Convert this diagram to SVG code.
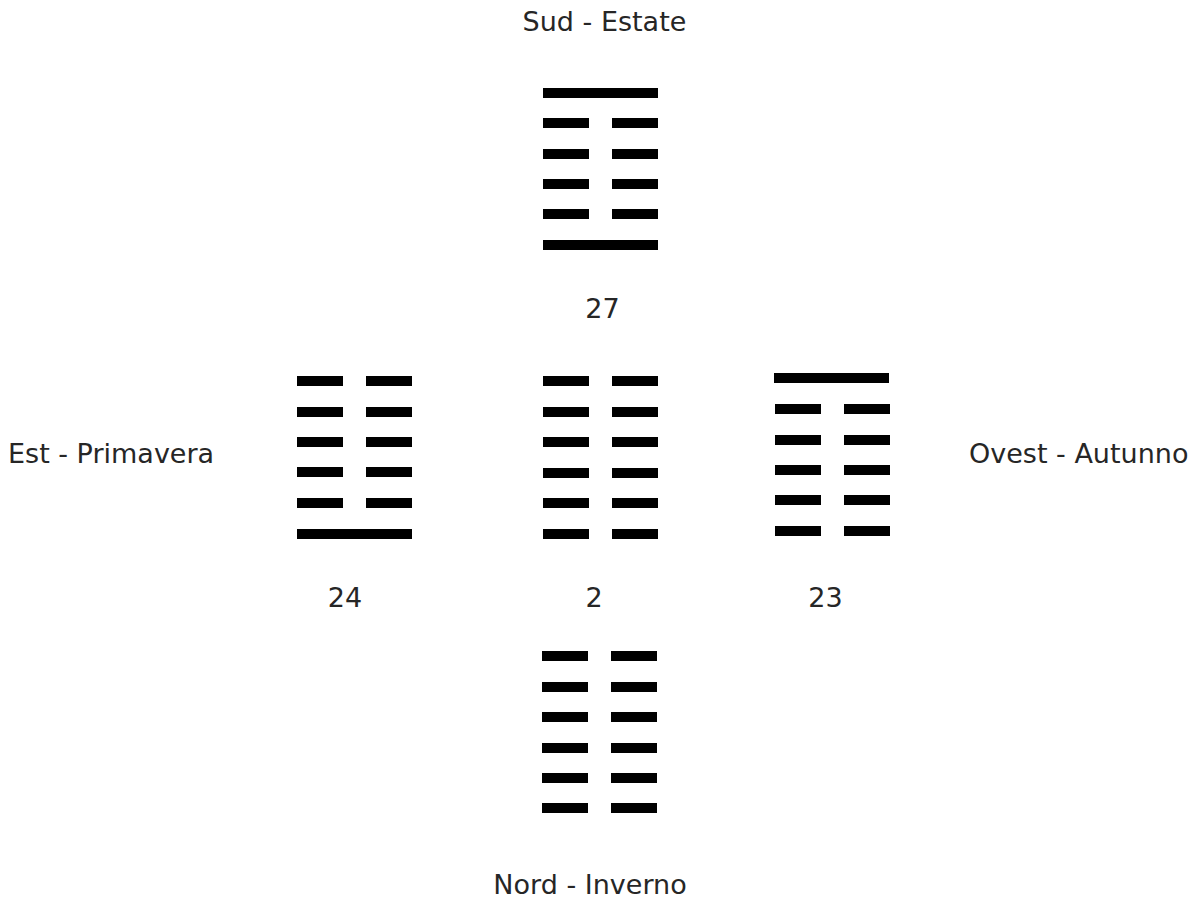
<svg xmlns="http://www.w3.org/2000/svg" xmlns:xlink="http://www.w3.org/1999/xlink" width="1199" height="898" viewBox="0 0 1199 898">
  <style>
    .lbl { font-family: "DejaVu Sans", Verdana, sans-serif; font-size: 27px; fill: #262626; }
    .mid { text-anchor: middle; }
  </style>
  <defs>
    <g id="yang"><rect x="0" y="0" width="115" height="10" fill="#000"/></g>
    <g id="yin"><rect x="0" y="0" width="46" height="10" fill="#000"/><rect x="69" y="0" width="46" height="10" fill="#000"/></g>
  </defs>
  <rect width="1199" height="898" fill="#fff"/>

  <g id="hex-27">
    <use xlink:href="#yang" x="543" y="88"/>
    <use xlink:href="#yin" x="543" y="118"/>
    <use xlink:href="#yin" x="543" y="149"/>
    <use xlink:href="#yin" x="543" y="179"/>
    <use xlink:href="#yin" x="543" y="209"/>
    <use xlink:href="#yang" x="543" y="240"/>
  </g>
  <g id="hex-24">
    <use xlink:href="#yin" x="297" y="376"/>
    <use xlink:href="#yin" x="297" y="407"/>
    <use xlink:href="#yin" x="297" y="437"/>
    <use xlink:href="#yin" x="297" y="467"/>
    <use xlink:href="#yin" x="297" y="498"/>
    <use xlink:href="#yang" x="297" y="529"/>
  </g>
  <g id="hex-2">
    <use xlink:href="#yin" x="543" y="376"/>
    <use xlink:href="#yin" x="543" y="407"/>
    <use xlink:href="#yin" x="543" y="437"/>
    <use xlink:href="#yin" x="543" y="468"/>
    <use xlink:href="#yin" x="543" y="498"/>
    <use xlink:href="#yin" x="543" y="529"/>
  </g>
  <g id="hex-23">
    <use xlink:href="#yang" x="774" y="373"/>
    <use xlink:href="#yin" x="775" y="404"/>
    <use xlink:href="#yin" x="775" y="435"/>
    <use xlink:href="#yin" x="775" y="465"/>
    <use xlink:href="#yin" x="775" y="495"/>
    <use xlink:href="#yin" x="775" y="526"/>
  </g>
  <g id="hex-2-nord">
    <use xlink:href="#yin" x="542" y="651"/>
    <use xlink:href="#yin" x="542" y="682"/>
    <use xlink:href="#yin" x="542" y="712"/>
    <use xlink:href="#yin" x="542" y="743"/>
    <use xlink:href="#yin" x="542" y="773"/>
    <use xlink:href="#yin" x="542" y="803"/>
  </g>

  <g id="label-sud"><text class="lbl mid" x="604.5" y="31">Sud - Estate</text></g>
  <g id="label-27"><text class="lbl mid" x="602.5" y="318">27</text></g>
  <g id="label-est"><text class="lbl" x="8" y="463">Est - Primavera</text></g>
  <g id="label-ovest"><text class="lbl" x="969" y="463">Ovest - Autunno</text></g>
  <g id="label-24"><text class="lbl mid" x="345" y="607">24</text></g>
  <g id="label-2"><text class="lbl mid" x="594" y="607">2</text></g>
  <g id="label-23"><text class="lbl mid" x="825.5" y="607">23</text></g>
  <g id="label-nord"><text class="lbl mid" x="590" y="894">Nord - Inverno</text></g>
</svg>
